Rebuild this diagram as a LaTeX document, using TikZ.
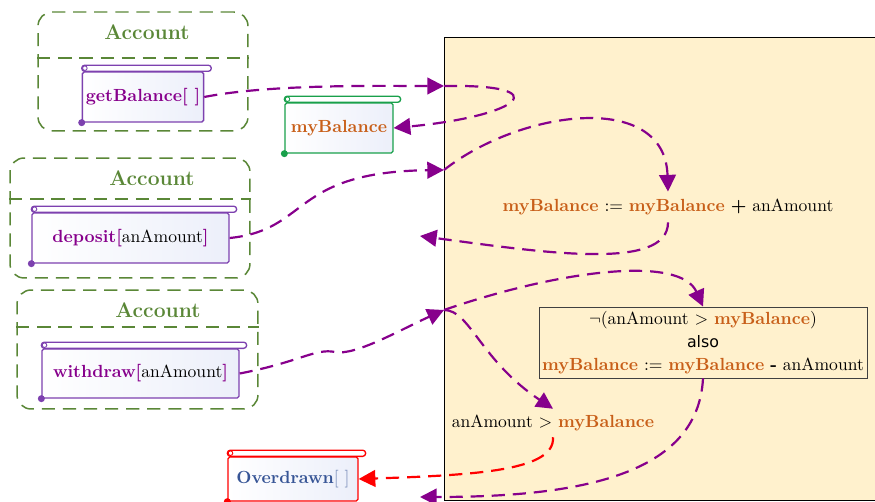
\documentclass[tikz,border=0pt]{standalone}
\usepackage{fontspec}
\setsansfont{DejaVu Sans}
\usetikzlibrary{arrows.meta}

\definecolor{acctgreen}{RGB}{90,135,55}
\definecolor{flowpurple}{RGB}{135,0,140}
\definecolor{scrollpurple}{RGB}{125,65,175}
\definecolor{scrollgreen}{RGB}{25,160,75}
\definecolor{scrollshade}{RGB}{236,239,250}
\definecolor{varorange}{RGB}{200,95,25}
\definecolor{errblue}{RGB}{55,85,150}
\definecolor{statefill}{RGB}{255,241,205}

\newcommand{\mybal}{\textcolor{varorange}{\textbf{myBalance}}}
\newcommand{\amt}{anAmount}
\newcommand{\meth}[1]{\textcolor{flowpurple}{\textbf{#1}}}

\tikzset{
  account/.style={draw=acctgreen, line width=0.85pt, dash pattern=on 7.5pt off 4.5pt, rounded corners=8pt},
  acctitle/.style={text=acctgreen, font=\large\bfseries},
  scroll/.style={draw=#1, line width=0.75pt, rounded corners=1pt, left color=white, right color=scrollshade, inner sep=2pt},
  flow/.style={draw=flowpurple, line width=1.25pt, dash pattern=on 7.5pt off 4.5pt, -{Triangle[length=9.5pt,width=9.5pt]}},
  fail/.style={flow, draw=red}
}

\begin{document}
\begin{tikzpicture}[x=0.02cm, y=-0.02cm]
    \useasboundingbox (0,0) rectangle (875,502);
    % state space
    \node[draw=black, line width=0.6pt, fill=statefill, minimum width=8.8cm, minimum height=9.28cm, inner sep=0pt] (state) at (664,269) {};
    \coordinate (in1) at (444,86);
    \coordinate (in2) at (444,170);
    \coordinate (in3) at (444,310);
    \coordinate (out1) at (420,236);
    \coordinate (out2) at (420,497);

    % objects
    \node[account, minimum width=4.2cm, minimum height=2.38cm] (acc1) at (143,71.5) {};
    \node[acctitle] (acc1t) at (147,32) {Account};
    \draw[account] (acc1.west |- 0,58) -- (acc1.east |- 0,58);
    \node[account, minimum width=4.8cm, minimum height=2.4cm] (acc2) at (130,218) {};
    \node[acctitle] (acc2t) at (152,178) {Account};
    \draw[account] (acc2.west |- 0,199) -- (acc2.east |- 0,199);
    \node[account, minimum width=4.82cm, minimum height=2.38cm] (acc3) at (137.5,349.5) {};
    \node[acctitle] (acc3t) at (158,310) {Account};
    \draw[account] (acc3.west |- 0,327) -- (acc3.east |- 0,327);

    % messages and values
    \node[scroll=scrollpurple, minimum width=2.4cm, minimum height=1cm] (getb) at (143,97) {\meth{getBalance[~]}};
    \node[scroll=scrollpurple, minimum width=3.94cm, minimum height=1cm] (dep) at (130.5,238) {\meth{deposit[}\amt\meth{]}};
    \node[scroll=scrollpurple, minimum width=3.94cm, minimum height=0.98cm] (wd) at (140.5,373.5) {\meth{withdraw[}\amt\meth{]}};
    \node[scroll=scrollgreen, minimum width=2.16cm, minimum height=1cm] (myb) at (339,128) {\mybal};
    \node[scroll=red, minimum width=2.6cm, minimum height=0.88cm] (od) at (293,479) {\textcolor{errblue}{\textbf{Overdrawn}}\textcolor{errblue!70}{[~]}};
    \foreach \n/\c in {getb/scrollpurple, dep/scrollpurple, wd/scrollpurple, myb/scrollgreen, od/red} {
        \draw[\c, line width=0.75pt, rounded corners=1.7pt, fill=white] (\n.north west) rectangle ([xshift=4pt,yshift=3.5pt]\n.north east);
        \draw[\c, line width=0.5pt] ([xshift=1.8pt,yshift=1.8pt]\n.north west) circle (1.3pt);
        \fill[\c] (\n.south west) circle (2pt);
    }

    % rules
    \node[inner sep=4pt] (depeq) at (668,207) {\mybal{} $:=$ \mybal{} \textbf{+} \amt};
    \node[draw=black!75, line width=0.5pt, align=center, minimum width=6.56cm, minimum height=1.42cm, inner sep=1pt, font=\fontsize{10}{13}\selectfont] (wdrule) at (703,342.5)
        {$\neg$(\amt{} $>$ \mybal)\\ {\sffamily\small also}\\ \mybal{} $:=$ \mybal{} \textbf{-} \amt};
    \node (odcond) at (553,423) {\amt{} $>$ \mybal};

    % flows
    \draw[flow] (getb.east) .. controls (270,84) and (380,86) .. (in1);
    \draw[flow] (in1) .. controls (560,84) and (520,116) .. (myb.east);
    \draw[flow] (dep.east) .. controls (310,230) and (290,172) .. (in2);
    \draw[flow] (in2) .. controls (520,110) and (665,90) .. (depeq.north);
    \draw[flow] (depeq.south) .. controls (668,272) and (540,252) .. (out1);
    \draw[flow] (wd.east) .. controls (300,362) and (315,348) .. (335,352) .. controls (355,356) and (400,330) .. (in3);
    \draw[flow] (in3) .. controls (560,270) and (680,255) .. (wdrule.north);
    \draw[flow] (in3) .. controls (470,310) and (480,360) .. (odcond.north);
    \draw[fail] (odcond.south) .. controls (555,470) and (480,475) .. (od.east);
    \draw[flow] (wdrule.south) .. controls (698,475) and (580,497) .. (out2);
\end{tikzpicture}
\end{document}
